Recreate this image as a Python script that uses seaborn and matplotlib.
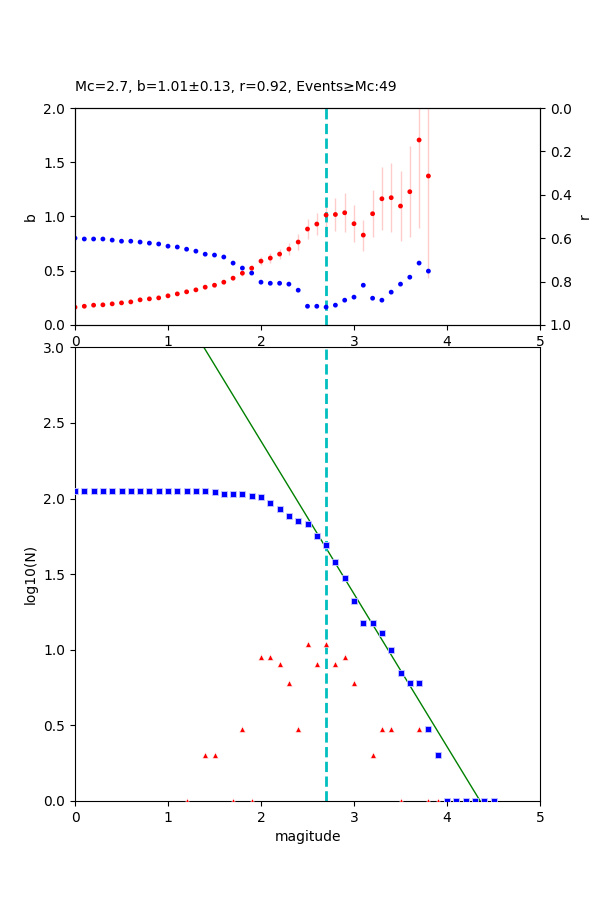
import numpy as np
import pandas as pd
import seaborn as sns
import matplotlib
matplotlib.use("Agg")
import matplotlib.pyplot as plt

## data
mc = 2.7
b_mc = 1.01
b_err_mc = 0.13
r_mc = 0.92
n_mc = 49
a_val = 4.40

# b-value / goodness of fit per trial Mc
mc_trial = [0.0, 0.1, 0.2, 0.3, 0.4, 0.5, 0.6, 0.7, 0.8, 0.9,
            1.0, 1.1, 1.2, 1.3, 1.4, 1.5, 1.6, 1.7, 1.8, 1.9,
            2.0, 2.1, 2.2, 2.3, 2.4, 2.5, 2.6, 2.7, 2.8, 2.9,
            3.0, 3.1, 3.2, 3.3, 3.4, 3.5, 3.6, 3.7, 3.8]
b_vals = [0.163, 0.172, 0.182, 0.185, 0.194, 0.203, 0.212, 0.231, 0.240, 0.249,
          0.268, 0.286, 0.305, 0.323, 0.348, 0.366, 0.394, 0.431, 0.477, 0.523,
          0.588, 0.616, 0.653, 0.699, 0.764, 0.884, 0.930, 1.013, 1.018, 1.034,
          0.933, 0.828, 1.025, 1.163, 1.173, 1.096, 1.228, 1.705, 1.373]
b_errs = [0.008, 0.008, 0.009, 0.009, 0.009, 0.010, 0.010, 0.011, 0.011, 0.012,
          0.012, 0.013, 0.014, 0.015, 0.016, 0.017, 0.019, 0.021, 0.024, 0.028,
          0.038, 0.046, 0.048, 0.055, 0.071, 0.092, 0.100, 0.130, 0.148, 0.178,
          0.170, 0.142, 0.215, 0.290, 0.320, 0.326, 0.420, 0.810, 0.945]
r_vals = [0.600, 0.604, 0.604, 0.604, 0.609, 0.614, 0.614, 0.618, 0.623, 0.627,
          0.637, 0.641, 0.651, 0.660, 0.674, 0.678, 0.687, 0.715, 0.738, 0.761,
          0.803, 0.808, 0.808, 0.812, 0.840, 0.914, 0.914, 0.918, 0.909, 0.886,
          0.872, 0.817, 0.877, 0.886, 0.849, 0.812, 0.780, 0.715, 0.752]

# frequency-magnitude distribution
mags = [0.0, 0.1, 0.2, 0.3, 0.4, 0.5, 0.6, 0.7, 0.8, 0.9,
        1.0, 1.1, 1.2, 1.3, 1.4, 1.5, 1.6, 1.7, 1.8, 1.9,
        2.0, 2.1, 2.2, 2.3, 2.4, 2.5, 2.6, 2.7, 2.8, 2.9,
        3.0, 3.1, 3.2, 3.3, 3.4, 3.5, 3.6, 3.7, 3.8, 3.9,
        4.0, 4.1, 4.2, 4.3, 4.4, 4.5]
cum_counts = [113, 113, 113, 113, 113, 113, 113, 113, 113, 113,
              113, 113, 113, 112, 112, 110, 108, 108, 107, 104,
              103, 94, 85, 77, 71, 68, 57, 49, 38, 30,
              21, 15, 15, 13, 10, 7, 6, 6, 3, 2,
              1, 1, 1, 1, 1, 1]
# non-cumulative, only bins that have events
bin_mags = [1.2, 1.4, 1.5, 1.7, 1.8, 1.9, 2.0, 2.1, 2.2, 2.3, 2.4,
            2.5, 2.6, 2.7, 2.8, 2.9, 3.0, 3.2, 3.3, 3.4, 3.5,
            3.7, 3.8, 3.9, 4.5]
bin_counts = [1, 2, 2, 1, 3, 1, 9, 9, 8, 6, 3,
              11, 8, 11, 8, 9, 6, 2, 3, 3, 1,
              3, 1, 1, 1]

top = pd.DataFrame({"mc": mc_trial, "b": b_vals, "err": b_errs, "r": r_vals})
fmd = pd.DataFrame({"mag": mags, "logN": np.log10(cum_counts)})
fmd["fit"] = a_val - b_mc * fmd["mag"]
noncum = pd.DataFrame({"mag": bin_mags, "logn": np.log10(bin_counts)})

fig = plt.figure(figsize=(6, 9), dpi=100)
ax1 = fig.add_axes([0.125, 0.639, 0.775, 0.241])
ax3 = fig.add_axes([0.125, 0.11, 0.775, 0.504])

## top: b and r vs Mc
ax1.errorbar(top["mc"], top["b"], yerr=top["err"], fmt="none",
             ecolor="red", alpha=0.2, elinewidth=1)
ax1.axvline(mc, color="c", linestyle="--", linewidth=2)
sns.scatterplot(data=top, x="mc", y="b", ax=ax1, color="red", s=12,
                edgecolor="none", zorder=3)
ax1.set_xlim(0, 5)
ax1.set_ylim(0, 2)
ax1.set_yticks([0, 0.5, 1.0, 1.5, 2.0])
ax1.set_xlabel("")
ax1.set_ylabel("b")
ax1.set_title(f"Mc={mc}, b={b_mc:.2f}\u00b1{b_err_mc:.2f}, r={r_mc:.2f}, "
              f"Events\u2265Mc:{n_mc}", loc="left", fontsize=10, pad=12)

ax2 = ax1.twinx()
sns.scatterplot(data=top, x="mc", y="r", ax=ax2, color="blue", s=12,
                edgecolor="none")
ax2.set_ylim(1, 0)
ax2.set_yticks([0, 0.2, 0.4, 0.6, 0.8, 1.0])
ax2.set_ylabel("r")
ax2.set_xlim(0, 5)

## bottom: frequency-magnitude
sns.lineplot(data=fmd, x="mag", y="fit", ax=ax3, color="green", linewidth=1)
ax3.axvline(mc, color="c", linestyle="--", linewidth=2)
sns.scatterplot(data=noncum, x="mag", y="logn", ax=ax3, color="red",
                marker="^", s=18, edgecolor="w", linewidth=0.4, zorder=3)
sns.scatterplot(data=fmd, x="mag", y="logN", ax=ax3, color="blue",
                marker="s", s=14, edgecolor="#c8c8ff", linewidth=0.6, zorder=4)
ax3.set_xlim(0, 5)
ax3.set_ylim(0, 3)
ax3.set_yticks([0, 0.5, 1.0, 1.5, 2.0, 2.5, 3.0])
ax3.set_xlabel("magitude")
ax3.set_ylabel("log10(N)")

fig.savefig("out.png", dpi=100)
